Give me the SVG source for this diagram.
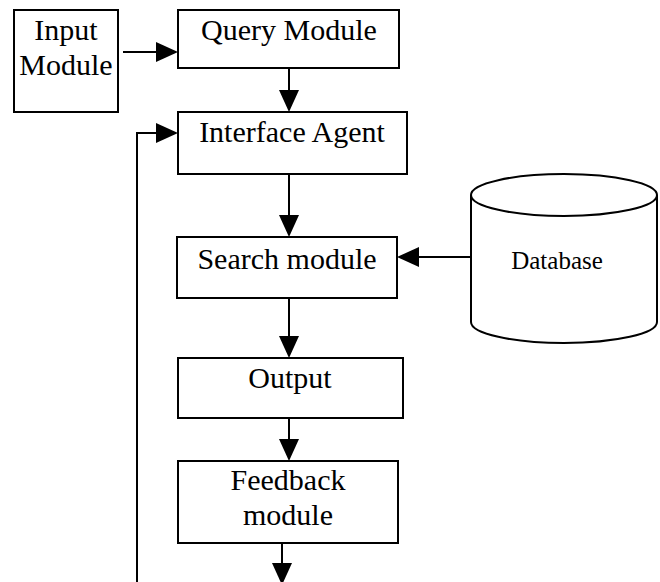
<svg xmlns="http://www.w3.org/2000/svg" width="660" height="582" viewBox="0 0 660 582">
<style>
.box{fill:#fff;stroke:#000;stroke-width:2}
.t{font-family:"Liberation Serif","Times New Roman",serif;font-size:30px;fill:#000;text-anchor:middle}
.db{font-size:25px}
.c{fill:none;stroke:#000;stroke-width:2}
</style>
<defs>
<marker id="ah" markerUnits="userSpaceOnUse" markerWidth="22" markerHeight="20" refX="0" refY="10" orient="auto" overflow="visible">
<path d="M0,0 L22,10 L0,20 Z" fill="#000"/>
</marker>
</defs>
<rect width="660" height="582" fill="#fff"/>
<g id="input">
<rect class="box" x="14" y="10" width="104" height="102"/>
<text class="t" x="66" y="40">Input</text>
<text class="t" x="66" y="75">Module</text>
</g>
<g id="query">
<rect class="box" x="178" y="10" width="221" height="58"/>
<text class="t" x="289" y="40">Query Module</text>
</g>
<g id="interface">
<rect class="box" x="178" y="112" width="229" height="62"/>
<text class="t" x="292" y="142">Interface Agent</text>
</g>
<g id="search">
<rect class="box" x="177" y="237" width="220" height="61"/>
<text class="t" x="287" y="269">Search module</text>
</g>
<g id="output">
<rect class="box" x="178" y="358" width="225" height="60"/>
<text class="t" x="290" y="388">Output</text>
</g>
<g id="feedback">
<rect class="box" x="178" y="461" width="220" height="82"/>
<text class="t" x="288" y="490">Feedback</text>
<text class="t" x="288" y="525">module</text>
</g>
<g id="database">
<path class="box" d="M471,195 L471,322 A93,21 0 0 0 657,322 L657,195"/>
<ellipse class="box" cx="564" cy="195" rx="93" ry="21"/>
<text class="t db" x="557" y="269">Database</text>
</g>
<g id="connectors">
<line class="c" x1="123" y1="52" x2="156" y2="52" marker-end="url(#ah)"/>
<line class="c" x1="289" y1="69" x2="289" y2="90" marker-end="url(#ah)"/>
<line class="c" x1="289" y1="175" x2="289" y2="215" marker-end="url(#ah)"/>
<line class="c" x1="289" y1="299" x2="289" y2="336" marker-end="url(#ah)"/>
<line class="c" x1="289" y1="419" x2="289" y2="439" marker-end="url(#ah)"/>
<line class="c" x1="282" y1="544" x2="282" y2="563" marker-end="url(#ah)"/>
<line class="c" x1="471" y1="257" x2="419" y2="257" marker-end="url(#ah)"/>
<polyline class="c" points="137,584 137,133 156,133" marker-end="url(#ah)"/>
</g>
</svg>
